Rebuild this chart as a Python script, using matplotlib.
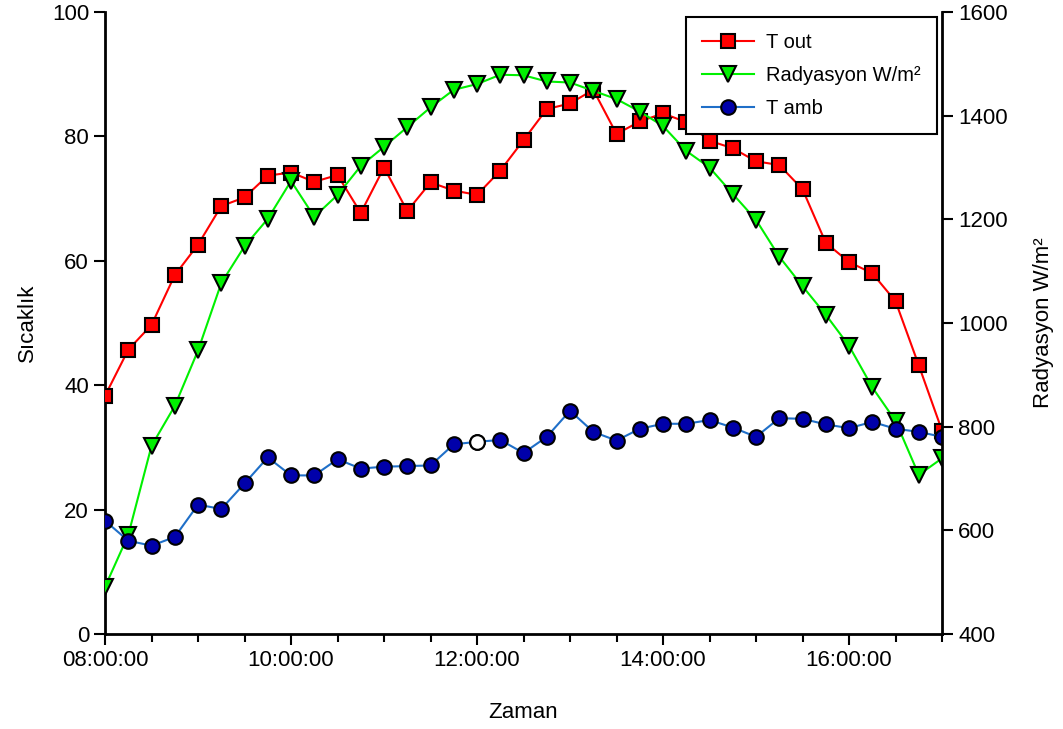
import matplotlib.pyplot as plt
from matplotlib.ticker import MultipleLocator, FuncFormatter

plt.rcParams['font.family'] = ['Liberation Sans', 'DejaVu Sans']

times = ["08:00", "08:15", "08:30", "08:45", "09:00", "09:15", "09:30", "09:45",
         "10:00", "10:15", "10:30", "10:45", "11:00", "11:15", "11:30", "11:45",
         "12:00", "12:15", "12:30", "12:45", "13:00", "13:15", "13:30", "13:45",
         "14:00", "14:15", "14:30", "14:45", "15:00", "15:15", "15:30", "15:45",
         "16:00", "16:15", "16:30", "16:45", "17:00"]

t_out = [38.3, 45.7, 49.7, 57.7, 62.6, 68.8, 70.2, 73.7, 74.2, 72.7, 73.8, 67.7,
         75.0, 68.0, 72.6, 71.3, 70.6, 74.5, 79.4, 84.4, 85.3, 87.5, 80.4, 82.4,
         83.7, 82.3, 79.3, 78.1, 76.0, 75.4, 71.5, 62.9, 59.8, 58.0, 53.5, 43.2, 32.7]

radyasyon = [491, 591, 763, 840, 947, 1077, 1148, 1201, 1274, 1205, 1247, 1303,
             1340, 1378, 1416, 1450, 1461, 1479, 1478, 1466, 1464, 1448, 1432, 1408,
             1380, 1332, 1300, 1249, 1199, 1128, 1071, 1016, 956, 876, 811, 707, 739]

t_amb = [18.2, 15.0, 14.2, 15.6, 20.8, 20.1, 24.2, 28.4, 25.5, 25.5, 28.1, 26.6,
         26.9, 27.0, 27.1, 30.5, 30.9, 31.2, 29.1, 31.7, 35.9, 32.5, 31.1, 33.0,
         33.8, 33.8, 34.4, 33.2, 31.7, 34.7, 34.6, 33.7, 33.1, 34.1, 33.0, 32.5, 31.7]

# the one T amb marker drawn without fill
tamb_hollow = ["12:00"]

hours = [int(s[:2]) + int(s[3:]) / 60 for s in times]

fig = plt.figure(figsize=(10.63, 7.29), dpi=100)
ax = fig.add_axes([0.0988, 0.1303, 0.7874, 0.8532])
ax2 = ax.twinx()

ax.set_xlim(8, 17)
ax.set_ylim(0, 100)
ax2.set_ylim(400, 1600)

l1, = ax.plot(hours, t_out, color='red', lw=1.5, marker='s', ms=10.5,
              mfc='red', mec='black', mew=1.5, zorder=3, label='T out')
l2, = ax.plot(hours, radyasyon, color='#00f000', lw=1.5, marker='v', ms=11.5,
              mfc='#00f000', mec='black', mew=1.5, zorder=4,
              transform=ax2.transData, label='Radyasyon W/m²')
l3, = ax.plot(hours, t_amb, color='#1f6fc8', lw=1.5, marker='o', ms=10.5,
              mfc='#0000aa', mec='black', mew=1.5, zorder=5, label='T amb')
hx = [h for h, s in zip(hours, times) if s in tamb_hollow]
hy = [v for v, s in zip(t_amb, times) if s in tamb_hollow]
ax.plot(hx, hy, ls='none', marker='o', ms=10.5, mfc='white', mec='black',
        mew=1.5, zorder=6)

for a in (ax, ax2):
    a.spines['top'].set_visible(False)
    for sp in a.spines.values():
        sp.set_linewidth(2)
ax.spines['right'].set_visible(False)
ax2.spines['left'].set_visible(False)
ax2.spines['bottom'].set_visible(False)

ax.xaxis.set_major_locator(MultipleLocator(2))
ax.xaxis.set_minor_locator(MultipleLocator(0.5))
ax.xaxis.set_major_formatter(FuncFormatter(lambda v, p: "%02d:00:00" % int(round(v))))
ax.yaxis.set_major_locator(MultipleLocator(20))
ax2.yaxis.set_major_locator(MultipleLocator(200))

ax.tick_params(which='major', direction='out', length=8, width=1.5, labelsize=16)
ax.tick_params(which='minor', direction='out', length=6, width=1.5)
ax2.tick_params(direction='out', length=8, width=1.5, labelsize=16)

ax.set_xlabel('Zaman', fontsize=16, labelpad=22)
ax.set_ylabel('Sıcaklık', fontsize=16, labelpad=10)
ax2.set_ylabel('Radyasyon W/m²', fontsize=16, labelpad=18)

leg = ax.legend(handles=[l1, l2, l3], loc='upper right', fontsize=14.5,
                frameon=True, fancybox=False, edgecolor='black', framealpha=1,
                handlelength=2.6, labelspacing=0.68, borderaxespad=0.25,
                borderpad=0.8, handletextpad=0.6)
leg.get_frame().set_linewidth(1.5)

fig.savefig('out.png', dpi=100)
